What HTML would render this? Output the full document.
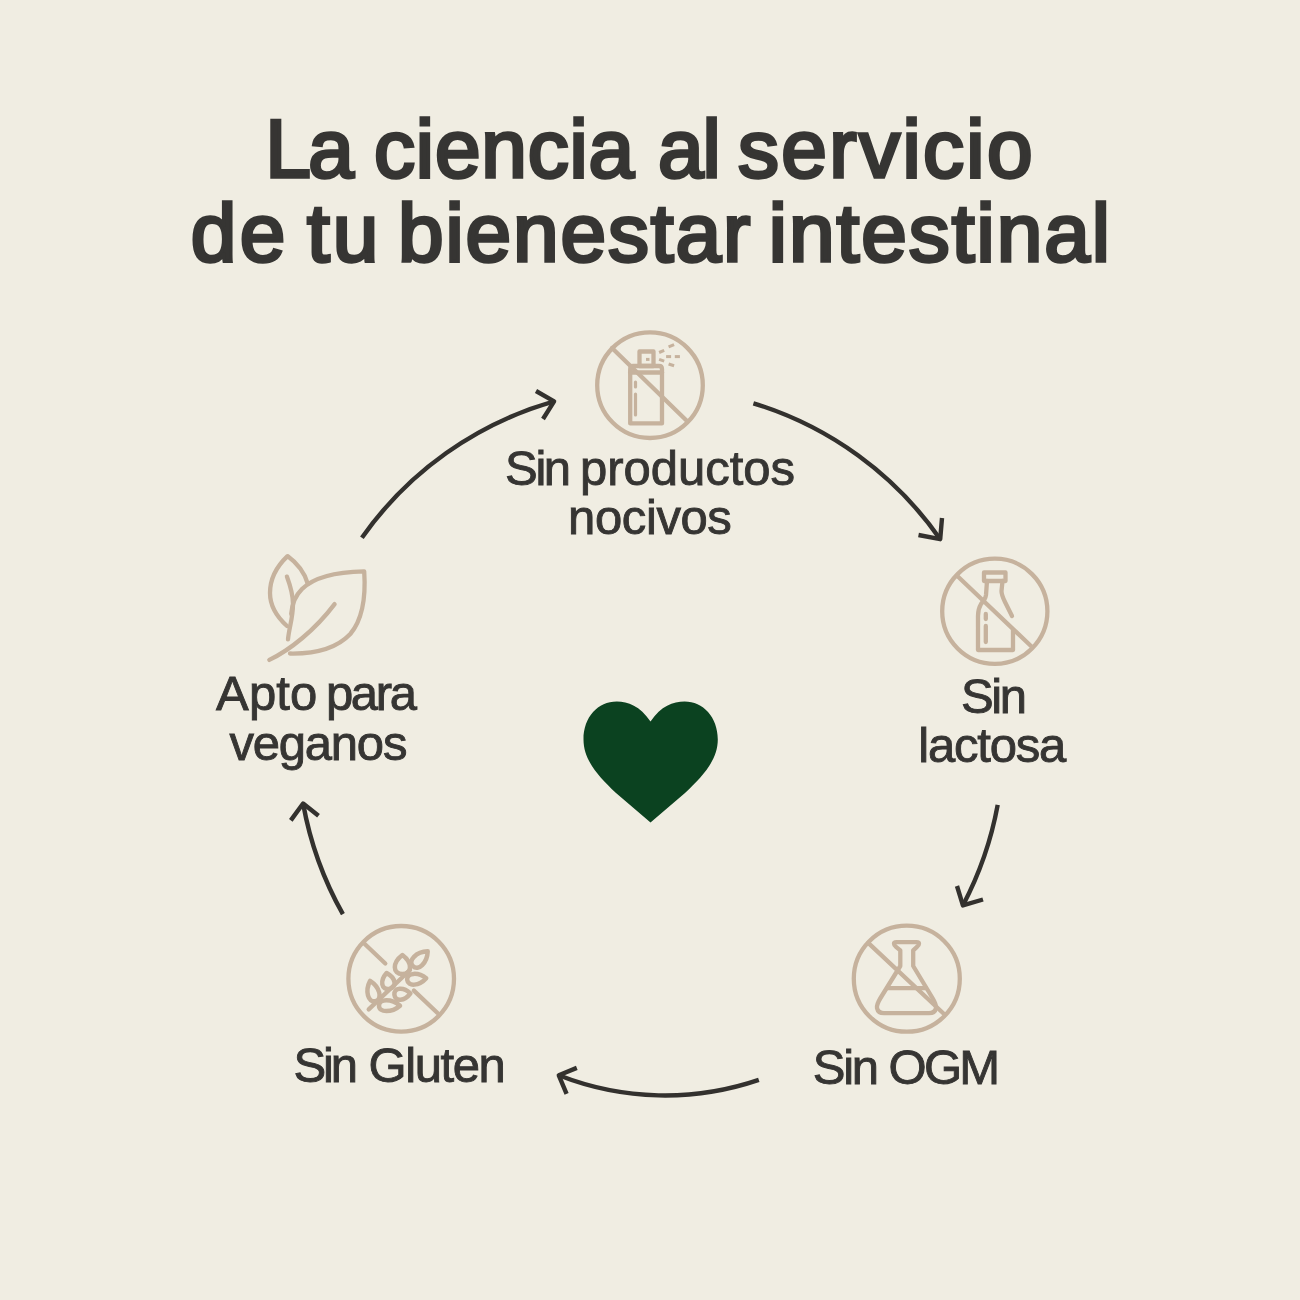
<!DOCTYPE html>
<html><head><meta charset="utf-8">
<style>
html,body{margin:0;padding:0;}
body{width:1300px;height:1300px;background:#f0ede2;position:relative;overflow:hidden;font-family:"Liberation Sans",sans-serif;}
svg{position:absolute;left:0;top:0;}
.tt{font-family:"Liberation Sans",sans-serif;font-weight:400;font-size:82px;fill:#363533;stroke:#363533;stroke-width:3.4;}
.lb{font-family:"Liberation Sans",sans-serif;font-weight:400;font-size:49px;fill:#363533;stroke:#363533;stroke-width:0.9;}
.ar{fill:none;stroke:#33312e;stroke-width:4.4;stroke-linecap:butt;stroke-linejoin:round;}
.ic{fill:none;stroke:#c6b29d;stroke-width:4.3;stroke-linecap:round;stroke-linejoin:round;}
</style></head>
<body>
<svg width="1300" height="1300" viewBox="0 0 1300 1300">
<!-- title -->
<text id="w1" class="tt" x="265.2" y="176.9" letter-spacing="-2.50">La</text>
<text id="w2" class="tt" x="374.0" y="176.9" letter-spacing="0.83">ciencia</text>
<text id="w3" class="tt" x="658.0" y="176.9" letter-spacing="-1.00">al</text>
<text id="w4" class="tt" x="738.0" y="176.9" letter-spacing="2.37">servicio</text>
<text id="w5" class="tt" x="190.8" y="260.8" letter-spacing="3.30">de</text>
<text id="w6" class="tt" x="307.0" y="260.8" letter-spacing="3.00">tu</text>
<text id="w7" class="tt" x="398.0" y="260.8" letter-spacing="1.86">bienestar</text>
<text id="w8" class="tt" x="768.8" y="260.8" letter-spacing="1.95">intestinal</text>

<!-- labels -->
<text id="a1" class="lb" x="505.1" y="485.3" letter-spacing="-2.40">Sin</text>
<text id="a2" class="lb" x="580.0" y="485.3" letter-spacing="-0.03">productos</text>
<text id="a3" class="lb" x="568.1" y="534.2" letter-spacing="-0.40">nocivos</text>
<text id="a4" class="lb" x="960.9" y="713.2" letter-spacing="-2.40">Sin</text>
<text id="a5" class="lb" x="918.3" y="762.2" letter-spacing="-1.23">lactosa</text>
<text id="a6" class="lb" x="812.7" y="1084.1" letter-spacing="-2.20">Sin</text>
<text id="a7" class="lb" x="888.5" y="1084.1" letter-spacing="-2.70">OGM</text>
<text id="a8" class="lb" x="293.4" y="1082.2" letter-spacing="-3.10">Sin</text>
<text id="a9" class="lb" x="368.5" y="1082.2" letter-spacing="-1.40">Gluten</text>
<text id="b1" class="lb" x="216.1" y="709.8" letter-spacing="0.13">Apto</text>
<text id="b2" class="lb" x="325.9" y="709.8" letter-spacing="-2.34">para</text>
<text id="b3" class="lb" x="229.5" y="759.7" letter-spacing="-1.23">veganos</text>

<!-- arrows -->
<g class="ar">
<path d="M361.9,537.7 A353,353 0 0 1 554.1,401.4"/>
<path d="M536,391 L554.1,401.4 L543,419"/>
<path d="M753.4,403.3 A353,353 0 0 1 940.2,539.2"/>
<path d="M918.5,535 L940.2,539.2 L942,518"/>
<path d="M997.7,804.9 A353,353 0 0 1 962.9,905.4"/>
<path d="M957,886 L962.9,905.4 L983,899.5"/>
<path d="M758.8,1079.9 A290.5,290.5 0 0 1 558.8,1075.3"/>
<path d="M576.8,1067.9 L558.8,1075.3 L566.6,1093.8"/>
<path d="M342.9,914.2 A353,353 0 0 1 303.1,803.5"/>
<path d="M290.8,820.4 L303.1,803.5 L318.5,815.8"/>
</g>

<!-- heart -->
<path fill="#0b4220" d="M650.5,721.5 C640,706 628,701.5 616.8,701.5 C598,701.5 583.5,717 583.5,739.5 C583.5,760 598,776 616,793 L650.5,822.6 L685,793 C703,776 717.8,760 717.8,739.5 C717.8,717 703,701.5 684.6,701.5 C673,701.5 661,706 650.5,721.5 Z"/>

<!-- icon 1: spray -->
<g class="ic">
<circle cx="650" cy="385.2" r="52.8"/>
<line x1="612" y1="348" x2="687" y2="421"/>
<path d="M630.2,423.4 L630.2,369 Q630.2,366 633,366 L659,366 Q662,366 662,369 L662,423.4 Z"/>
<line x1="630.2" y1="372.5" x2="662" y2="372.5"/>
<rect x="639.5" y="351.5" width="14" height="14.5"/>
<line x1="646" y1="359.4" x2="649.5" y2="359.4" style="stroke-width:3;stroke-linecap:butt"/>
<line x1="635.5" y1="382" x2="635.5" y2="387" style="stroke-width:3.2"/>
<line x1="635.5" y1="394" x2="635.5" y2="415" style="stroke-width:3.2"/>
<g style="stroke-width:3;stroke-linecap:butt">
<line x1="659.1" y1="352.5" x2="664.2" y2="350.4"/>
<line x1="668.6" y1="346.9" x2="674.1" y2="344.6"/>
<line x1="666.1" y1="356.6" x2="671.1" y2="356.6"/>
<line x1="674.8" y1="356.6" x2="679.9" y2="356.6"/>
<line x1="659.1" y1="359.4" x2="664.2" y2="361.2"/>
<line x1="668.6" y1="364" x2="674.1" y2="365.8"/>
</g>
</g>

<!-- icon 2: bottle -->
<g class="ic">
<circle cx="994.8" cy="611.3" r="52.6"/>
<line x1="957.6" y1="576.3" x2="1031.5" y2="646.5"/>
<rect x="984" y="572.5" width="21.5" height="8.5"/>
<path d="M987,581 L986,595 Q985.5,599 981,604 Q978,609 978,616 L978,650 L1013,650 L1013,630"/>
<path d="M1002.5,581 L1001.5,591 Q1001.5,595 1005,602 Q1011,614 1012,616"/>
<line x1="985.8" y1="614" x2="985.8" y2="619"/>
<line x1="985.8" y1="626" x2="985.8" y2="642"/>
</g>

<!-- icon 3: flask -->
<g class="ic">
<circle cx="906.8" cy="978.7" r="53"/>
<line x1="868.2" y1="942.9" x2="943.5" y2="1013.5"/>
<path d="M900.3,950.3 L896,946.8 Q894,945.2 894,943.8 Q894,942.2 896.5,942.2 L916.5,942.2 Q919,942.2 919,943.8 Q919,945.2 917,946.8 L913.2,950.3 L913.2,966 L932.5,998 Q936.5,1004.5 936,1008 Q935,1013.2 929,1013.2 L884,1013.2 Q878,1013.2 877,1008 Q876.5,1004.5 880.5,998 L900.3,966 Z"/>
<line x1="887.6" y1="988.2" x2="926" y2="988.2"/>
</g>

<!-- icon 4: wheat -->
<g class="ic">
<circle cx="401.2" cy="978.8" r="52.8"/>
<line x1="364.5" y1="943.8" x2="385.3" y2="963.5"/>
<line x1="413.9" y1="990.6" x2="437.5" y2="1013"/>
<line x1="368.7" y1="1009.4" x2="410" y2="970"/>
<g style="stroke-width:4.5">
<path d="M427.7,951.3 C416.3,951.7 407.4,960.7 412.9,966.1 C418.3,971.6 427.3,962.7 427.7,951.3 Z"/>
<path d="M402.4,955.0 C392.3,962.6 392.3,974.0 402.4,974.0 C412.5,974.0 412.5,962.6 402.4,955.0 Z"/>
<path d="M386.6,973.1 C379.6,980.9 381.3,990.3 389.4,988.9 C397.5,987.4 395.9,978.0 386.6,973.1 Z"/>
<path d="M370.1,980.9 C364.8,991.0 368.0,1003.1 375.5,1001.1 C383.0,999.1 379.7,987.0 370.1,980.9 Z"/>
<path d="M426.2,978.2 C418.0,971.7 406.6,972.7 407.2,979.8 C407.9,987.0 419.2,986.0 426.2,978.2 Z"/>
<path d="M410.4,993.3 C403.4,986.6 393.8,987.4 394.4,994.7 C395.1,1002.0 404.6,1001.2 410.4,993.3 Z"/>
<path d="M400.0,1005.7 C391.6,998.5 379.0,998.5 379.0,1005.7 C379.0,1012.9 391.6,1012.9 400.0,1005.7 Z"/>
</g>
</g>

<!-- icon 5: leaves -->
<g class="ic">
<path d="M307.8,583.8 C304,571 297,563 287.5,556.1 C276,567 270,580 270,593 C270,607 277,617 287,626"/>
<path d="M286.9,576.6 C290,585 293,595 293,604 C293,618 289,628 288,639.4"/>
<path d="M291.2,614 C292,603 296,595 302,589 C312,579 330,572 364.2,571.3 C366,598 362,620 350.3,634 C337,648 318,654 290,653.5"/>
<path d="M269.3,659.9 C290,650 315,630 334.6,604.1"/>
</g>
</svg>
</body></html>
